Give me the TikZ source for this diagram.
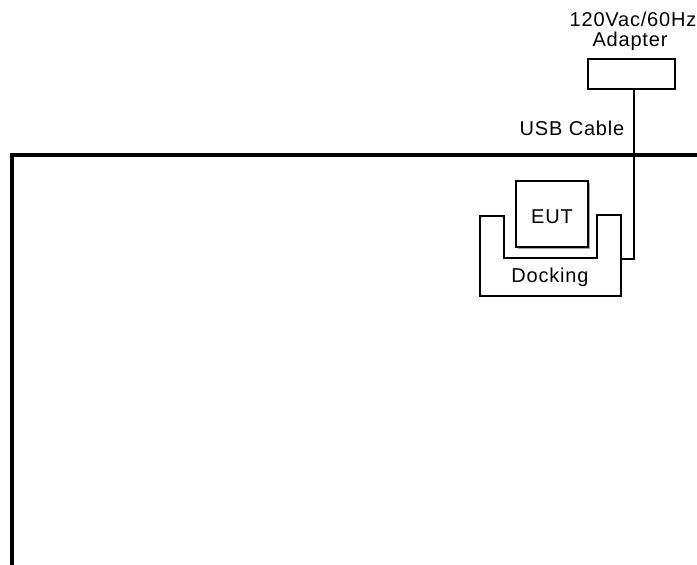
\documentclass[tikz,border=0pt]{standalone}
\usepackage{fontspec}
\setmainfont{Liberation Sans}[LetterSpace=4]
\begin{document}
\begin{tikzpicture}[x=1bp,y=-1bp,
  thinline/.style={line width=1.3bp,draw=black},
  thickline/.style={line width=3.3bp,draw=black},
  lbl/.style={inner sep=0pt,anchor=base,font=\fontsize{20bp}{23bp}\selectfont}]
\useasboundingbox (0,0) rectangle (697,565);
% table outline
\coordinate (tl) at (12,155);
\coordinate (tr) at (700,155);
\coordinate (bl) at (12,568);
\draw[thickline] (tr) -- (tl) -- (bl);
% adapter
\node[thinline,draw,minimum width=87bp,minimum height=30bp,inner sep=0pt] (adapter) at (631.5,74) {};
\node[lbl] (adtext1) at (633,27) {120Vac/60Hz};
\node[lbl] (adtext2) at (630,47) {Adapter};
% USB label
\node[lbl] (usb) at (572,136) {USB Cable};
% EUT with shadow
\draw[line width=1.4bp,draw=black!35] (589,183) -- (589,248) -- (518,248);
\node[thinline,draw,minimum width=72bp,minimum height=66bp,inner sep=0pt] (eut) at (552,214) {};
\node[lbl] (euttext) at (552,223) {EUT};
% docking cradle
\coordinate (d1) at (480,216);
\coordinate (d2) at (504,216);
\coordinate (d3) at (504,258);
\coordinate (d4) at (597,258);
\coordinate (d5) at (597,215);
\coordinate (d6) at (621,215);
\coordinate (d7) at (621,296);
\coordinate (d8) at (480,296);
\draw[thinline,line join=miter] (d1) -- (d2) -- (d3) -- (d4) -- (d5) -- (d6) -- (d7) -- (d8) -- cycle;
\node[lbl] (docktext) at (550,282) {Docking};
% cable
\coordinate (cblend) at (621,259);
\draw[thinline] (adapter.south -| 634,0) -- (634,259) -- (cblend);
\end{tikzpicture}
\end{document}
